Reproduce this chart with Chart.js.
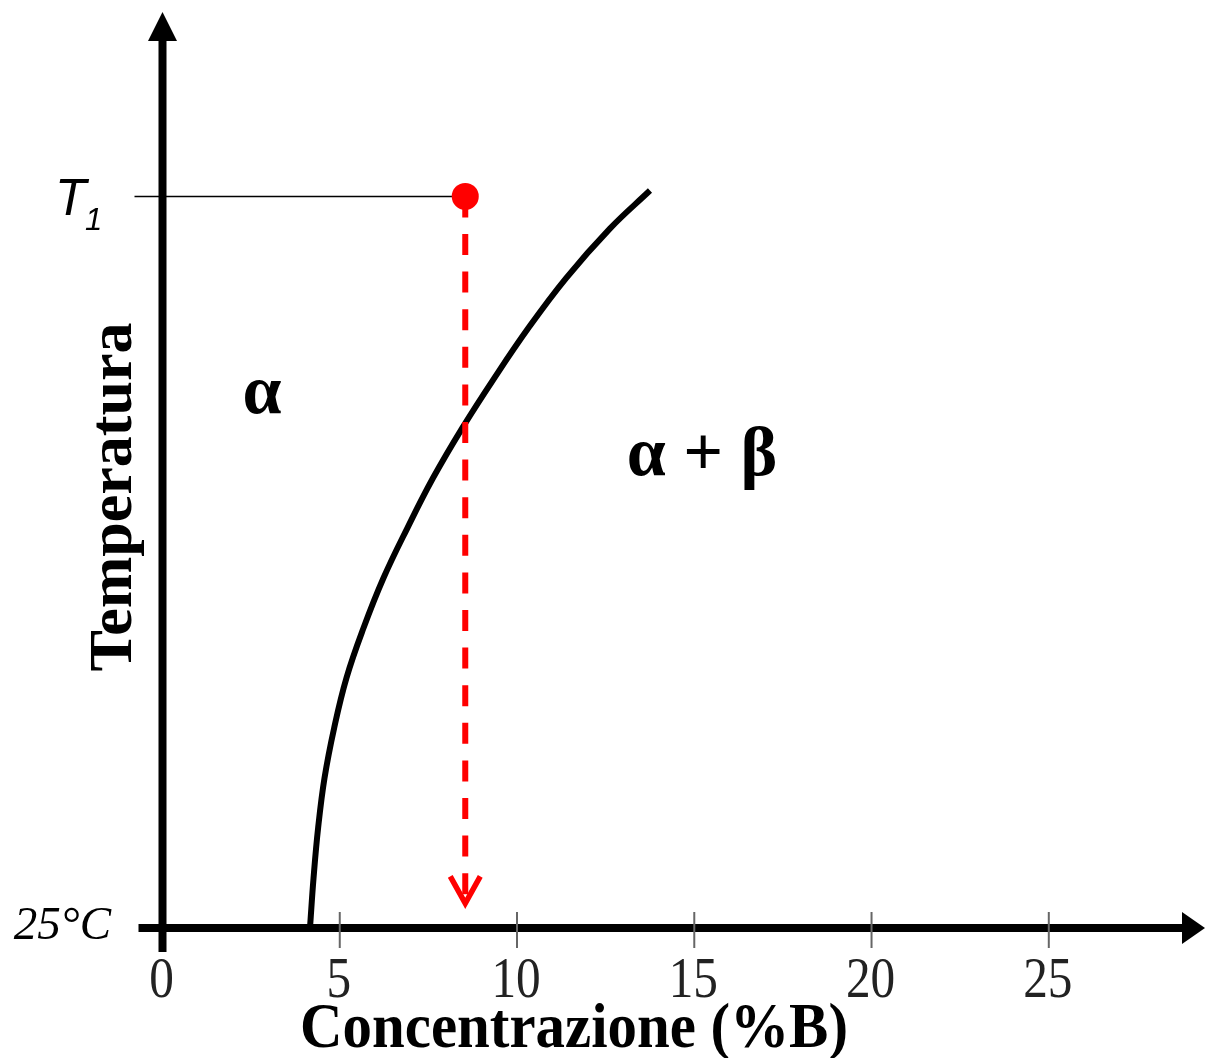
<!DOCTYPE html>
<html>
<head>
<meta charset="utf-8">
<script src="https://cdn.jsdelivr.net/npm/chart.js@4"></script>
<style>
html,body{margin:0;padding:0;background:#fff;}
#wrap{width:1205px;height:1058px;position:relative;}
canvas{display:block;}
</style>
</head>
<body>
<div id="wrap"><canvas id="c" width="1205" height="1058"></canvas></div>
<script>
// ---- data ----
const solvusX = [4.16, 4.26, 4.39, 4.57, 4.84, 5.19, 5.67, 6.23, 6.90, 7.63, 8.45, 9.35, 10.32, 11.38, 12.62, 13.75];
const solvusY = [0, 6.8, 13.7, 20.5, 27.3, 34.2, 41.0, 47.8, 54.6, 61.5, 68.3, 75.1, 82.0, 88.8, 95.6, 100.8];
const stateX = [8.54];
const stateY = [100];
const dropX = [8.54, 8.54];
const dropY = [100, 3.1];
const t1LineX = [-0.79, 8.54];
const t1LineY = [100, 100];
const xTickValues = [0, 5, 10, 15, 20, 25];
const xTickLabels = ['0', '5', '10', '15', '20', '25'];
const xTitle = 'Concentrazione (%B)';
const yTitle = 'Temperatura';
const yLowLabel = '25°C';
const yHighLabel = 'T';
const yHighSub = '1';
const regionLabels = [
  {text: 'α', x: 2.81, y: 70.4},
  {text: 'α + β', x: 15.22, y: 61.9}
];

const toPts = (xs, ys) => xs.map((x, i) => ({x: x, y: ys[i]}));

const decor = {
  id: 'decor',
  beforeDatasetsDraw(chart) {
    const ctx = chart.ctx;
    const xs = chart.scales.x, ys = chart.scales.y;
    const x0 = xs.getPixelForValue(0);
    const y0 = ys.getPixelForValue(0);
    ctx.save();
    ctx.fillStyle = '#000';
    ctx.strokeStyle = '#000';
    // y axis
    ctx.lineWidth = 8;
    ctx.beginPath();
    ctx.moveTo(x0, y0 + 24);
    ctx.lineTo(x0, 38);
    ctx.stroke();
    ctx.beginPath();
    ctx.moveTo(x0 - 14.5, 41);
    ctx.lineTo(x0 + 14.5, 41);
    ctx.lineTo(x0, 12);
    ctx.closePath();
    ctx.fill();
    // x axis
    ctx.beginPath();
    ctx.moveTo(x0 - 24, y0);
    ctx.lineTo(1185, y0);
    ctx.stroke();
    ctx.beginPath();
    ctx.moveTo(1182, y0 - 16);
    ctx.lineTo(1182, y0 + 16);
    ctx.lineTo(1205, y0);
    ctx.closePath();
    ctx.fill();
    // tick marks
    ctx.strokeStyle = '#666';
    ctx.lineWidth = 2;
    xTickValues.forEach(v => {
      if (v === 0) return;
      const px = xs.getPixelForValue(v);
      ctx.beginPath();
      ctx.moveTo(px, y0 - 16);
      ctx.lineTo(px, y0 + 20);
      ctx.stroke();
    });
    // tick labels
    ctx.fillStyle = '#222';
    ctx.font = '56px "Liberation Serif", "Times New Roman", serif';
    ctx.textAlign = 'center';
    ctx.textBaseline = 'alphabetic';
    xTickValues.forEach((v, i) => {
      const px = xs.getPixelForValue(v);
      ctx.save();
      ctx.translate(px - 1, y0 + 69);
      ctx.scale(0.88, 1);
      ctx.fillText(xTickLabels[i], 0, 0);
      ctx.restore();
    });
    // x title
    ctx.fillStyle = '#000';
    ctx.font = 'bold 64px "Liberation Serif", "Times New Roman", serif';
    ctx.fillText(xTitle, 574, 1047, 548);
    // y title
    ctx.save();
    ctx.translate(131, 497);
    ctx.rotate(-Math.PI / 2);
    ctx.font = 'bold 62px "Liberation Serif", "Times New Roman", serif';
    ctx.textAlign = 'center';
    ctx.fillText(yTitle, 0, 0, 352);
    ctx.restore();
    // 25°C
    ctx.font = 'italic 47px "Liberation Serif", "Times New Roman", serif';
    ctx.textAlign = 'right';
    ctx.fillText(yLowLabel, 111, y0 + 11);
    // T1
    const yT = ys.getPixelForValue(100);
    ctx.textAlign = 'left';
    ctx.font = 'italic 51px "Liberation Sans", Arial, sans-serif';
    ctx.fillText(yHighLabel, 55, yT + 19);
    ctx.font = 'italic 31px "Liberation Sans", Arial, sans-serif';
    ctx.fillText(yHighSub, 85, yT + 34);
    // region labels
    ctx.textAlign = 'center';
    ctx.font = 'bold 70px "Liberation Serif", "Times New Roman", serif';
    regionLabels.forEach(r => {
      ctx.fillText(r.text, xs.getPixelForValue(r.x), ys.getPixelForValue(r.y));
    });
    ctx.restore();
  },
  afterDatasetsDraw(chart) {
    const ctx = chart.ctx;
    const xs = chart.scales.x, ys = chart.scales.y;
    const tx = xs.getPixelForValue(dropX[1]);
    const ty = ys.getPixelForValue(dropY[1]);
    ctx.save();
    ctx.strokeStyle = '#ff0000';
    ctx.lineWidth = 5.5;
    ctx.lineJoin = 'miter';
    ctx.beginPath();
    ctx.moveTo(tx - 15, ty - 29);
    ctx.lineTo(tx, ty - 2);
    ctx.lineTo(tx + 15, ty - 29);
    ctx.stroke();
    ctx.restore();
  }
};

new Chart(document.getElementById('c'), {
  type: 'scatter',
  data: {
    datasets: [
      {
        data: toPts(stateX, stateY),
        pointRadius: 13.5,
        pointBackgroundColor: '#ff0000',
        pointBorderWidth: 0,
        showLine: false,
        order: 0,
        clip: false
      },
      {
        data: toPts(t1LineX, t1LineY),
        showLine: true,
        borderColor: '#000',
        borderWidth: 1.5,
        pointRadius: 0,
        order: 1,
        clip: false
      },
      {
        data: toPts(dropX, dropY),
        showLine: true,
        borderColor: '#ff0000',
        borderWidth: 6,
        borderDash: [21, 16.6],
        pointRadius: 0,
        order: 2,
        clip: false
      },
      {
        data: toPts(solvusX, solvusY),
        showLine: true,
        borderColor: '#000',
        borderWidth: 6,
        tension: 0.4,
        pointRadius: 0,
        order: 3,
        clip: false
      }
    ]
  },
  options: {
    responsive: false,
    animation: false,
    events: [],
    layout: {padding: {left: 162.5, right: 14.4, top: 13, bottom: 130}},
    plugins: {legend: {display: false}, tooltip: {enabled: false}},
    scales: {
      x: {type: 'linear', min: 0, max: 29, display: false},
      y: {type: 'linear', min: 0, max: 125, display: false}
    }
  },
  plugins: [decor]
});
</script>
</body>
</html>
